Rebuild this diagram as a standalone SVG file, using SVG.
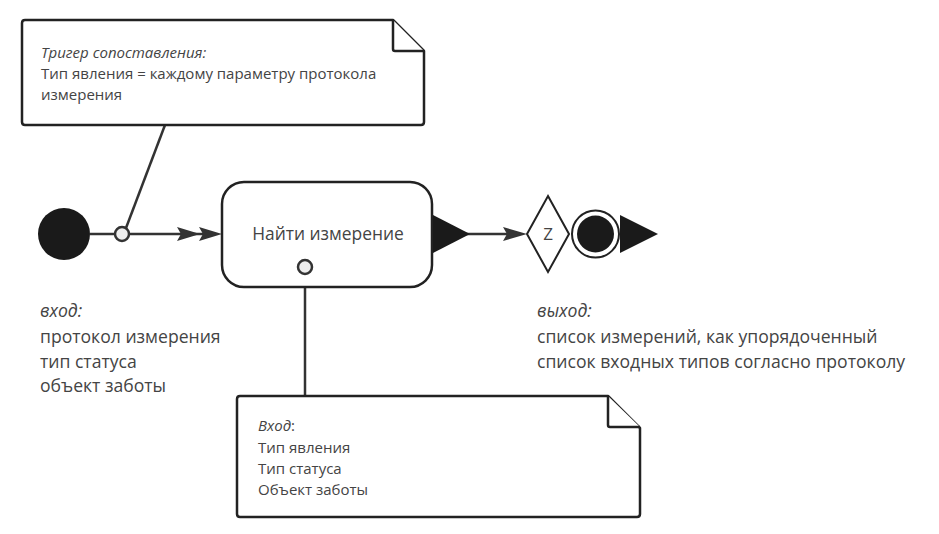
<svg xmlns="http://www.w3.org/2000/svg" width="939" height="534" viewBox="0 0 939 534">
<style>
.note{fill:#fff;stroke:#222;stroke-width:2.5;stroke-linejoin:round}
.ln{stroke:#333;stroke-width:2.5;fill:none}
.t{font-family:"Open Sans","Noto Sans","DejaVu Sans",sans-serif;fill:#444}
.s13{font-size:15px}
.s17{font-size:17.6px}
.it{font-style:italic}
.pin{fill:#eee;stroke:#333;stroke-width:2.5}
.ah{fill:#333}
</style>
<g id="connectors">
<line class="ln" x1="165" y1="125" x2="126" y2="228"/>
<line class="ln" x1="90" y1="234" x2="115" y2="234"/>
<line class="ln" x1="129" y1="234" x2="205" y2="234"/>
<path class="ah" d="M177,227 L200,234 L177,241 L181,234 Z"/>
<path class="ah" d="M199,227 L222,234 L199,241 L203,234 Z"/>
<line class="ln" x1="305" y1="274" x2="305" y2="396"/>
<line class="ln" x1="450" y1="234" x2="510" y2="234"/>
<path class="ah" d="M503,227 L527,234 L503,241 L507,234 Z"/>
</g>
<g id="note-trigger">
<path class="note" d="M25,20 L393,20 L424,51 L424,122 Q424,125 421,125 L25,125 Q22,125 22,122 L22,23 Q22,20 25,20 Z"/>
<path class="note" d="M393,20 L393,49 Q393,51 395,51 L424,51"/>
<text class="t s13 it" x="41" y="58">Тригер сопоставления:</text>
<text class="t s13" x="41" y="79">Тип явления = каждому параметру протокола</text>
<text class="t s13" x="41" y="100">измерения</text>
</g>
<g id="initial">
<circle cx="64" cy="234" r="26" fill="#1a1a1a"/>
</g>
<g id="pin-in">
<circle class="pin" cx="122" cy="234" r="7"/>
</g>
<g id="action">
<rect x="222" y="182" width="210" height="105" rx="22" fill="#fff" stroke="#222" stroke-width="2.5"/>
<text class="t" x="328" y="240" font-size="17.4" text-anchor="middle">Найти измерение</text>
<circle class="pin" cx="305" cy="267" r="7"/>
<path d="M433,215 L470,234 L433,253 Z" fill="#1a1a1a"/>
</g>
<g id="decision">
<path d="M548,196 L569,234 L548,272 L527,234 Z" fill="#fff" stroke="#222" stroke-width="2"/>
<text class="t" x="548" y="240" font-size="17" text-anchor="middle">Z</text>
</g>
<g id="final">
<circle cx="595.5" cy="234" r="23.5" fill="#fff" stroke="#222" stroke-width="2"/>
<circle cx="595.5" cy="234" r="18.5" fill="#1a1a1a"/>
<path d="M620,215 L658,234 L620,253 Z" fill="#1a1a1a"/>
</g>
<g id="input-label">
<text class="t s17 it" x="40" y="317">вход:</text>
<text class="t s17" x="40" y="343">протокол измерения</text>
<text class="t s17" x="40" y="368">тип статуса</text>
<text class="t s17" x="40" y="392">объект заботы</text>
</g>
<g id="output-label">
<text class="t s17 it" x="537" y="317">выход:</text>
<text class="t s17" x="537" y="343">список измерений, как упорядоченный</text>
<text class="t s17" x="537" y="368">список входных типов согласно протоколу</text>
</g>
<g id="note-input">
<path class="note" d="M240,396 L608,396 L640,428 L640,514 Q640,517 637,517 L240,517 Q237,517 237,514 L237,399 Q237,396 240,396 Z"/>
<path class="note" d="M608,396 L608,425 Q608,427 610,427 L640,427"/>
<text class="t s13" x="258" y="431"><tspan class="it">Вход</tspan>:</text>
<text class="t s13" x="258" y="453">Тип явления</text>
<text class="t s13" x="258" y="474">Тип статуса</text>
<text class="t s13" x="258" y="495">Объект заботы</text>
</g>
</svg>
